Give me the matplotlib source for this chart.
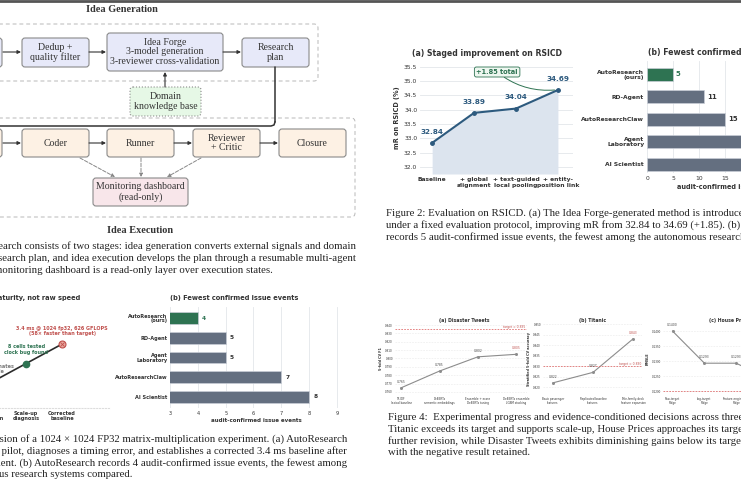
import numpy as np
import matplotlib
matplotlib.use("Agg")
import matplotlib.pyplot as plt
from matplotlib.patches import FancyBboxPatch

W, H = 741, 486

# ---- data ----
# Figure 2 (a)
stage_labels = ["Baseline", "+ global\nalignment", "+ text-guided\nlocal pooling", "+ entity-\nposition link"]
stage_mr = [32.84, 33.89, 34.04, 34.69]
# Figure 2 (b)
sys_top = ["AutoResearch\n(ours)", "RD-Agent", "AutoResearchClaw", "Agent\nLaboratory", "AI Scientist"]
issues_top = [5, 11, 15, 21, 26]
# Figure 3 (a)
steps = ["Pilot\nrun", "Timing\nvalidation", "Scale-up\ndiagnosis", "Corrected\nbaseline"]
maturity = [1, 2, 3, 4]
# Figure 3 (b)
sys_bot = ["AutoResearch\n(ours)", "RD-Agent", "Agent\nLaboratory", "AutoResearchClaw", "AI Scientist"]
issues_bot = [4, 5, 5, 7, 8]
# Figure 4
tw_labels = ["TF-IDF\nlexical baseline", "DeBERTa\nsemantic embeddings", "Ensemble + erase\nDeBERTa tuning", "DeBERTa ensemble\nLGBM stacking"]
tw_f1 = [0.765, 0.785, 0.802, 0.805]
ti_labels = ["Basic passenger\nfeatures", "Replicated baseline\nfeatures", "Title-family-deck\nfeature expansion"]
ti_acc = [0.822, 0.827, 0.843]
ho_labels = ["Raw-target\nRidge", "Log-target\nRidge", "Feature-engineered\nRidge", "Blend"]
ho_rmsle = [0.1400, 0.1293, 0.1293, 0.1240]

SERIF = "Liberation Serif"
TXT = "#333333"
GREEN = "#2e7352"
GRAY_BAR = "#646f80"
RED = "#c0504d"
BLUE = "#2d5a7e"
CAP = 7.75


def rect(x0, y0, x1, y1):
    return [x0 / W, 1 - y1 / H, (x1 - x0) / W, (y1 - y0) / H]


fig = plt.figure(figsize=(W / 100, H / 100), dpi=100)
ov = fig.add_axes([0, 0, 1, 1])
ov.set_xlim(0, W)
ov.set_ylim(H, 0)
ov.axis("off")

ov.plot([0, W], [0.8, 0.8], color="#555555", lw=2)

# ---- diagram ----
def box(x0, y0, x1, y1, fc, ls="-"):
    ov.add_patch(FancyBboxPatch((x0, y0), x1 - x0, y1 - y0,
                                boxstyle="round,pad=0,rounding_size=3",
                                fc=fc, ec="#8a8a8a", lw=0.8, ls=ls))


def arrow(x1, y1, x2, y2, ls="-", color="#333333", lw=0.8):
    ov.annotate("", xy=(x2, y2), xytext=(x1, y1),
                arrowprops=dict(arrowstyle="-|>", color=color, lw=lw, ls=ls,
                                mutation_scale=5, shrinkA=0, shrinkB=0))


def btxt(x, y, s, **kw):
    ov.text(x, y, s, ha="center", va="center", family=SERIF, fontsize=7.1,
            color=TXT, linespacing=1.1, **kw)


ov.add_patch(FancyBboxPatch((-10, 24), 328, 57, boxstyle="round,pad=0,rounding_size=4",
                            fc="none", ec="#b8b8b8", lw=0.7, ls=(0, (4, 3))))
ov.add_patch(FancyBboxPatch((-10, 118), 365, 99, boxstyle="round,pad=0,rounding_size=4",
                            fc="none", ec="#b8b8b8", lw=0.7, ls=(0, (4, 3))))
ov.text(122, 10, "Idea Generation", ha="center", va="center", family=SERIF,
        fontsize=7.4, weight="bold", color=TXT)
ov.text(140, 230, "Idea Execution", ha="center", va="center", family=SERIF,
        fontsize=7.4, weight="bold", color=TXT)

BLUEBOX = "#e7e9f9"
box(-40, 38, 2, 67, BLUEBOX)
box(22, 38, 89, 67, BLUEBOX)
btxt(55.5, 52.5, "Dedup +\nquality filter")
box(107, 33, 223, 71, BLUEBOX)
btxt(165, 52, "Idea Forge\n3-model generation\n3-reviewer cross-validation")
box(242, 38, 309, 67, BLUEBOX)
btxt(275.5, 52.5, "Research\nplan")
arrow(3, 52, 21, 52)
arrow(89, 52, 106, 52)
arrow(223, 52, 241, 52)
box(130, 87, 201, 116, "#e6f8e6", ls=":")
btxt(165.5, 101.5, "Domain\nknowledge base")
arrow(165, 87, 165, 72)
ov.plot([275, 275], [67, 122], color="#333333", lw=1.1, solid_capstyle="round")
ov.plot([275, 274, 271, -5], [122, 125, 126, 126], color="#333333", lw=1.1)

ORBOX = "#fdf1e4"
box(-40, 129, 2, 157, ORBOX)
for x0, lab in [(22, "Coder"), (107, "Runner"), (193, "Reviewer\n+ Critic"), (279, "Closure")]:
    box(x0, 129, x0 + 67, 157, ORBOX)
    btxt(x0 + 33.5, 143, lab)
arrow(3, 143, 21, 143)
arrow(89, 143, 106, 143)
arrow(174, 143, 192, 143)
arrow(260, 143, 278, 143)
box(93, 178, 188, 206, "#f8e6ea")
btxt(140.5, 192, "Monitoring dashboard\n(read-only)")
arrow(80, 158, 115, 177, ls="--", color="#888888", lw=0.7)
arrow(141, 158, 141, 177, ls="--", color="#888888", lw=0.7)
arrow(201, 158, 167, 177, ls="--", color="#888888", lw=0.7)


def cap(x, y, s, ha="left"):
    ov.text(x, y, s, ha=ha, va="center", family=SERIF, fontsize=CAP, color="#222222")


# Figure 1 caption (left part is cut by the page edge)
cap(356, 246, "Figure 1: AutoResearch consists of two stages: idea generation converts external signals and domain", "right")
cap(356, 258, "knowledge into a research plan, and idea execution develops the plan through a resumable multi-agent", "right")
cap(-6, 270, "monitoring dashboard is a read-only layer over execution states.")

# Figure 2 caption
cap(386, 213, "Figure 2: Evaluation on RSICD. (a) The Idea Forge-generated method is introduced stage by stage")
cap(386, 225, "under a fixed evaluation protocol, improving mR from 32.84 to 34.69 (+1.85). (b) AutoResearch")
cap(386, 237, "records 5 audit-confirmed issue events, the fewest among the autonomous research systems.")

# Figure 3 caption
cap(347, 439, "Figure 3: Progression of a 1024 \u00d7 1024 FP32 matrix-multiplication experiment. (a) AutoResearch", "right")
cap(347, 451, "runs a small-scale pilot, diagnoses a timing error, and establishes a corrected 3.4 ms baseline after", "right")
cap(347, 463, "the scale-up experiment. (b) AutoResearch records 4 audit-confirmed issue events, the fewest among", "right")
cap(133, 474, "the autonomous research systems compared.", "right")

# Figure 4 caption
cap(388, 417, "Figure 4:  Experimental progress and evidence-conditioned decisions across three Kaggle tasks.")
cap(388, 429, "Titanic exceeds its target and supports scale-up, House Prices approaches its target and warrants")
cap(388, 441, "further revision, while Disaster Tweets exhibits diminishing gains below its target and is closed")
cap(388, 452, "with the negative result retained.")


def clean(ax, grid_axis):
    for sp in ax.spines.values():
        sp.set_visible(False)
    ax.tick_params(length=0, colors=TXT)
    ax.grid(axis=grid_axis, color="#e3e6ea", lw=0.6)
    ax.set_axisbelow(True)


# ---- Figure 2 (a) ----
ax = fig.add_axes(rect(420, 62, 573, 174))
xs = np.arange(len(stage_mr))
ax.fill_between(xs, stage_mr, 31.75, color="#dce4ee", lw=0)
ax.plot(xs, stage_mr, color=BLUE, lw=1.5, marker="o", ms=2.5)
for x, v in zip(xs, stage_mr):
    ax.annotate(f"{v:.2f}", (x, v), xytext=(0, 8), textcoords="offset points",
                ha="center", va="center", fontsize=5.2, weight="bold", color=BLUE)
ax.annotate("+1.85 total", xy=(3 - 0.08, stage_mr[-1]), xytext=(1.55, 35.32),
            ha="center", va="center", fontsize=4.8, weight="bold", color=GREEN,
            bbox=dict(boxstyle="round,pad=0.3", fc="#eef7f0", ec=GREEN, lw=0.6),
            arrowprops=dict(arrowstyle="-", color=GREEN, lw=0.7,
                            connectionstyle="arc3,rad=0.2", shrinkA=0, shrinkB=0))
ax.set_xlim(-0.29, 3.36)
ax.set_ylim(31.75, 35.67)
ax.set_yticks(np.arange(32.0, 35.6, 0.5))
ax.set_xticks(xs, stage_labels)
clean(ax, "y")
ax.tick_params(labelsize=4.3, pad=2)
for t in ax.get_xticklabels():
    t.set_weight("bold")
ax.set_ylabel("mR on RSICD (%)", fontsize=4.7, weight="bold", color=TXT, labelpad=3)
ov.text(487, 53, "(a) Staged improvement on RSICD", ha="center", va="center",
        fontsize=5.6, weight="bold", color=TXT)

# ---- Figure 2 (b) ----
ax = fig.add_axes(rect(647, 61, 815, 173))
ys = np.arange(len(issues_top))
ax.barh(ys, issues_top, height=0.58, color=[GREEN] + [GRAY_BAR] * 4,
        edgecolor="#c9ced6", lw=0.5)
for y, v in zip(ys, issues_top):
    ax.annotate(str(v), (v, y), xytext=(2, 0), textcoords="offset points",
                ha="left", va="center", fontsize=5.0, weight="bold",
                color=GREEN if y == 0 else TXT)
ax.set_xlim(0, 32.3)
ax.set_ylim(4.4, -0.6)
ax.set_xticks(np.arange(0, 33, 5))
ax.set_yticks(ys, sys_top)
clean(ax, "x")
ax.tick_params(labelsize=4.3, pad=2)
for t in ax.get_yticklabels():
    t.set_weight("bold")
    t.set_linespacing(0.95)
ax.set_xlabel("audit-confirmed issue events", fontsize=4.7, weight="bold", color=TXT, labelpad=2)
ov.text(648, 53, "(b) Fewest confirmed issue events", ha="left", va="center",
        fontsize=5.6, weight="bold", color=TXT)

# ---- Figure 3 (a) ----
ax = fig.add_axes(rect(-64, 305, 109, 408))
xs = np.arange(len(maturity))
ax.plot(xs, maturity, color="#2b2b2b", lw=1.2, zorder=2)
ax.plot(xs[1], maturity[1], "o", ms=3.5, color="#8a8a8a", zorder=3)
ax.plot(xs[2], maturity[2], "o", ms=4.5, color=GREEN, zorder=3)
ax.plot(xs[3], maturity[3], "o", ms=5, mfc="#eaa79e", mec=RED, mew=0.8, zorder=3)
ax.plot(xs[3], maturity[3], "x", ms=2.5, color=RED, mew=0.6, zorder=4)
ax.annotate("3.4 ms @ 1024 fp32, 626 GFLOPS\n(58\u00d7 faster than target)", (xs[3], maturity[3]),
            xytext=(0, 9.5), textcoords="offset points", ha="center", va="center",
            fontsize=3.5, weight="semibold", color=RED, linespacing=1.1)
ax.annotate("8 cells tested\nclock bug found", (xs[2], maturity[2]),
            xytext=(0, 10), textcoords="offset points", ha="center", va="center",
            fontsize=3.5, weight="semibold", color=GREEN, linespacing=1.1)
ax.annotate("timing estimates\nunreliable", (xs[1], maturity[1]),
            xytext=(0, 10), textcoords="offset points", ha="center", va="center",
            fontsize=3.5, weight="semibold", color="#7a7a7a", linespacing=1.1)
ax.set_xlim(-0.5, 4.3)
ax.set_ylim(0.72, 6.0)
ax.set_xticks(xs, steps)
ax.set_yticks([])
for sp in ax.spines.values():
    sp.set_visible(False)
ax.spines["bottom"].set_visible(True)
ax.spines["bottom"].set_color("#dddddd")
ax.spines["bottom"].set_linestyle(":")
ax.tick_params(length=0, labelsize=3.6, pad=2, colors=TXT)
for t in ax.get_xticklabels():
    t.set_weight("bold")
    t.set_linespacing(1.0)
ov.text(80, 298, "(a) Progress reflects maturity, not raw speed", ha="right", va="center",
        fontsize=4.8, weight="bold", color=TXT)

# ---- Figure 3 (b) ----
ax = fig.add_axes(rect(170, 307, 342, 408))
ys = np.arange(len(issues_bot))
ax.barh(ys, issues_bot, height=0.6, color=[GREEN] + [GRAY_BAR] * 4,
        edgecolor="#c9ced6", lw=0.5)
for y, v in zip(ys, issues_bot):
    ax.annotate(str(v), (v, y), xytext=(3, 0), textcoords="offset points",
                ha="left", va="center", fontsize=4.2, weight="bold",
                color=GREEN if y == 0 else TXT)
ax.set_xlim(3, 9.18)
ax.set_ylim(4.56, -0.56)
ax.set_xticks(np.arange(3, 10))
ax.set_yticks(ys, sys_bot)
clean(ax, "x")
ax.tick_params(labelsize=3.6, pad=2)
for t in ax.get_yticklabels():
    t.set_weight("bold")
    t.set_linespacing(0.95)
ax.set_xlabel("audit-confirmed issue events", fontsize=4.0, weight="bold", color=TXT, labelpad=1.5)
ov.text(234, 298, "(b) Fewest confirmed issue events", ha="center", va="center",
        fontsize=4.8, weight="bold", color=TXT)


# ---- Figure 4 ----
def small_panel(pos, labels, vals, target, ylim, yticks, fmt, ylab, title, tx):
    ax = fig.add_axes(rect(*pos))
    xs = np.arange(len(vals))
    ax.plot(xs, vals, color="#8c8c8c", lw=0.8, marker="x", ms=1.5)
    for i, (x, v) in enumerate(zip(xs, vals)):
        ax.annotate(fmt.format(v), (x, v), xytext=(0, 3), textcoords="offset points",
                    ha="center", va="bottom", fontsize=2.2,
                    color=RED if i == len(vals) - 1 else "#444444")
    ax.axhline(target, color="#e07070", lw=0.6, ls=(0, (2, 1.5)))
    ax.set_ylim(*ylim)
    ax.set_yticks(yticks)
    ax.set_yticklabels([fmt.format(t) for t in yticks])
    ax.set_xticks(xs, labels)
    clean(ax, "y")
    ax.grid(axis="y", color="#e8e8e8", lw=0.4, ls=(0, (3, 2)))
    ax.tick_params(labelsize=2.0, pad=1.5)
    for t in ax.get_xticklabels():
        t.set_linespacing(1.0)
    ax.set_ylabel(ylab, fontsize=2.4, weight="bold", color=TXT, labelpad=1.5)
    ov.text(tx, 320, title, ha="center", va="center", fontsize=3.3, weight="bold", color=TXT)
    return ax


ax = small_panel((395, 323, 527, 395), tw_labels, tw_f1, 0.835,
                 (0.7564, 0.8424), np.arange(0.76, 0.8405, 0.01), "{:.3f}",
                 "5-fold CV F1", "(a) Disaster Tweets", 464)
ax.set_xlim(-0.16, 3.28)
ax.text(3.25, 0.835, "target = 0.835", ha="right", va="bottom", fontsize=2.2, color=RED)

ax = small_panel((543, 323, 642, 395), ti_labels, ti_acc, 0.830,
                 (0.8162, 0.8505), np.arange(0.82, 0.8505, 0.005), "{:.3f}",
                 "Stratified 5-fold CV accuracy", "(b) Titanic", 593)
ax.set_xlim(-0.25, 2.22)
ax.text(2.2, 0.830, "target = 0.830", ha="right", va="bottom", fontsize=2.2, color=RED)

ax = small_panel((663, 323, 800, 395), ho_labels, ho_rmsle, 0.120,
                 (0.1187, 0.1427), np.arange(0.12, 0.1405, 0.005), "{:.4f}",
                 "RMSLE", "(c) House Prices", 730)
ax.set_xlim(-0.3, 4.0)

fig.savefig("out.png", dpi=100)
